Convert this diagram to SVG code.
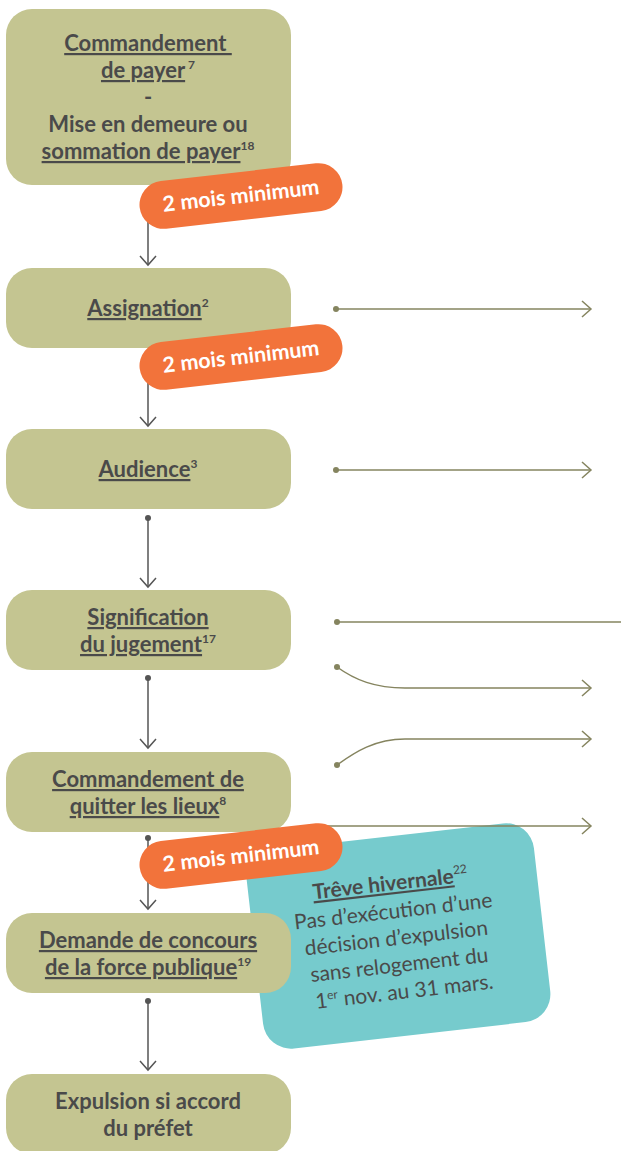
<svg xmlns="http://www.w3.org/2000/svg" width="621" height="1151" viewBox="0 0 621 1151">
<defs>
<style>
.box{fill:#c4c591;}
.t{font-family:Lato,"Open Sans","DejaVu Sans",sans-serif;font-weight:bold;font-size:22px;fill:#4a4a4a;text-anchor:middle;}
.u{text-decoration:underline;}
.sup{font-size:12px;}
.vl{stroke:#555555;stroke-width:1.5;fill:none;}
.hl{stroke:#85845f;stroke-width:1.5;fill:none;}
.dv{fill:#555555;}
.dh{fill:#85845f;}
.or{fill:#f2733b;}
.ot{font-family:Lato,"Open Sans","DejaVu Sans",sans-serif;font-weight:bold;font-size:21.5px;fill:#ffffff;text-anchor:middle;}
.tt{font-family:Lato,"Open Sans","DejaVu Sans",sans-serif;font-size:21px;fill:#4a4a4a;text-anchor:middle;}
</style>
<marker id="ahv" markerWidth="20" markerHeight="20" refX="10" refY="10" markerUnits="userSpaceOnUse" orient="auto">
<path d="M1,2 L10,10 L1,18" fill="none" stroke="#555555" stroke-width="1.5"/>
</marker>
<marker id="ahh" markerWidth="20" markerHeight="20" refX="10" refY="10" markerUnits="userSpaceOnUse" orient="auto">
<path d="M1,2 L10,10 L1,18" fill="none" stroke="#85845f" stroke-width="1.5"/>
</marker>
</defs>
<rect width="621" height="1151" fill="#ffffff"/>

<g id="treve">
<g transform="translate(398,936) rotate(-6.5)">
<rect x="-144" y="-100" width="289" height="200" rx="28" fill="#76cbcd"/>
<text class="tt" x="-2" y="-46"><tspan class="u" font-weight="bold">Trêve hivernale</tspan><tspan class="sup" font-size="13" dy="-9">22</tspan></text>
<text class="tt" x="-2" y="-18">Pas d’exécution d’une</text>
<text class="tt" x="-2" y="9">décision d’expulsion</text>
<text class="tt" x="-2" y="36">sans relogement du</text>
<text class="tt" x="0" y="63">1<tspan class="sup" dy="-8">er</tspan><tspan dy="8"> nov. au 31 mars.</tspan></text>
</g>
</g>

<g id="connectors">
<line class="vl" x1="148" y1="210" x2="148" y2="265" marker-end="url(#ahv)"/>
<line class="vl" x1="148" y1="370" x2="148" y2="426" marker-end="url(#ahv)"/>
<circle class="dv" cx="148" cy="518" r="3"/>
<line class="vl" x1="148" y1="518" x2="148" y2="587" marker-end="url(#ahv)"/>
<circle class="dv" cx="148" cy="678" r="3"/>
<line class="vl" x1="148" y1="678" x2="148" y2="748" marker-end="url(#ahv)"/>
<circle class="dv" cx="148" cy="838" r="3"/>
<line class="vl" x1="148" y1="838" x2="148" y2="909" marker-end="url(#ahv)"/>
<circle class="dv" cx="148" cy="1001" r="3"/>
<line class="vl" x1="148" y1="1001" x2="148" y2="1070" marker-end="url(#ahv)"/>

<circle class="dh" cx="336" cy="309" r="3"/>
<line class="hl" x1="336" y1="309" x2="591" y2="309" marker-end="url(#ahh)"/>
<circle class="dh" cx="336" cy="470" r="3"/>
<line class="hl" x1="336" y1="470" x2="591" y2="470" marker-end="url(#ahh)"/>
<circle class="dh" cx="337" cy="622" r="3"/>
<line class="hl" x1="337" y1="622" x2="621" y2="622"/>
<circle class="dh" cx="337" cy="667" r="3"/>
<path class="hl" d="M337,667 C355,680 375,688 405,688 L591,688" marker-end="url(#ahh)"/>
<circle class="dh" cx="337" cy="765" r="3"/>
<path class="hl" d="M337,765 C355,752 375,739 405,739 L591,739" marker-end="url(#ahh)"/>
<line class="hl" x1="300" y1="826" x2="591" y2="826" marker-end="url(#ahh)"/>
</g>

<g id="n1">
<rect class="box" x="6" y="9" width="285" height="176" rx="26"/>
<text class="t" x="148" y="51"><tspan class="u">Commandement&#160;</tspan></text>
<text class="t" x="148" y="78"><tspan class="u">de payer</tspan><tspan class="sup" dy="-9">&#160;7</tspan></text>
<text class="t" x="148" y="105">-</text>
<text class="t" x="148" y="132">Mise en demeure ou</text>
<text class="t" x="148" y="159"><tspan class="u">sommation de payer</tspan><tspan class="sup" dy="-9">18</tspan></text>
</g>
<g id="n2">
<rect class="box" x="6" y="268" width="285" height="80" rx="26"/>
<text class="t" x="148" y="316"><tspan class="u">Assignation</tspan><tspan class="sup" dy="-9">2</tspan></text>
</g>
<g id="n3">
<rect class="box" x="6" y="429" width="285" height="80" rx="26"/>
<text class="t" x="148" y="477"><tspan class="u">Audience</tspan><tspan class="sup" dy="-9">3</tspan></text>
</g>
<g id="n4">
<rect class="box" x="6" y="590" width="285" height="80" rx="26"/>
<text class="t" x="148" y="625"><tspan class="u">Signification</tspan></text>
<text class="t" x="148" y="652"><tspan class="u">du jugement</tspan><tspan class="sup" dy="-9">17</tspan></text>
</g>
<g id="n5">
<rect class="box" x="6" y="752" width="285" height="80" rx="26"/>
<text class="t" x="148" y="787"><tspan class="u">Commandement de</tspan></text>
<text class="t" x="148" y="814"><tspan class="u">quitter les lieux</tspan><tspan class="sup" dy="-9">8</tspan></text>
</g>
<g id="n6">
<rect class="box" x="6" y="913" width="285" height="80" rx="26"/>
<text class="t" x="148" y="948"><tspan class="u">Demande de concours</tspan></text>
<text class="t" x="148" y="975"><tspan class="u">de la force publique</tspan><tspan class="sup" dy="-9">19</tspan></text>
</g>
<g id="n7">
<rect class="box" x="6" y="1074" width="285" height="80" rx="26"/>
<text class="t" x="148" y="1109">Expulsion si accord</text>
<text class="t" x="148" y="1136">du préfet</text>
</g>

<g id="delai1" transform="translate(241,196) rotate(-6.5)">
<rect class="or" x="-102" y="-24" width="204" height="48" rx="24"/>
<text class="ot" x="0" y="7">2 mois minimum</text>
</g>
<g id="delai2" transform="translate(241,357) rotate(-6.5)">
<rect class="or" x="-102" y="-24" width="204" height="48" rx="24"/>
<text class="ot" x="0" y="7">2 mois minimum</text>
</g>
<g id="delai3" transform="translate(241,856) rotate(-6.5)">
<rect class="or" x="-102" y="-24" width="204" height="48" rx="24"/>
<text class="ot" x="0" y="7">2 mois minimum</text>
</g>
</svg>
